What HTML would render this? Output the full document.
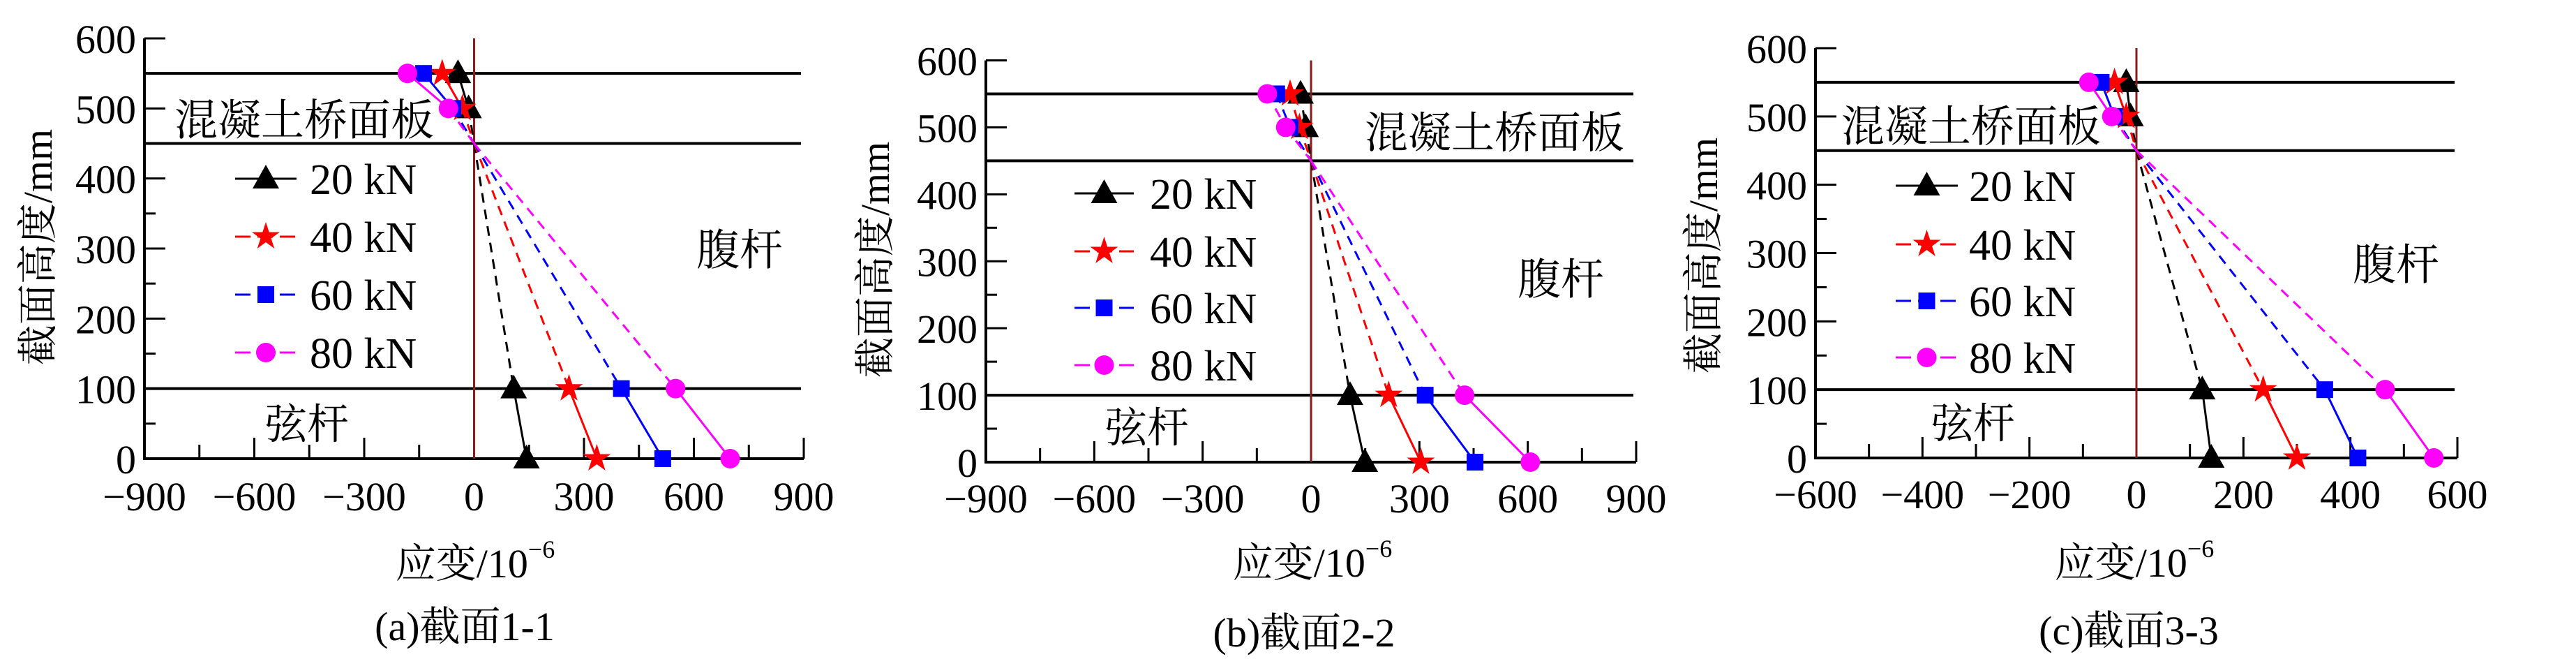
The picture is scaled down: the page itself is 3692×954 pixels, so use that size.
<!DOCTYPE html>
<html><head><meta charset="utf-8"><style>
html,body{margin:0;padding:0;background:#fff;}
svg{display:block;font-family:"Liberation Serif","Noto Serif CJK SC",serif;}
svg text{font-family:"Liberation Serif","Noto Serif CJK SC",serif;fill:#000;}
</style></head>
<body>
<svg id="chart" width="3692" height="954" viewBox="0 0 3692 954" xmlns="http://www.w3.org/2000/svg" font-family="Liberation Serif, Noto Serif CJK SC, serif"></svg>
<script>
const heights = [550, 500, 450, 100, 0];
const loads = ["20 kN", "40 kN", "60 kN", "80 kN"];
const aStrain20 = [-44, -15, 0, 108, 143];
const aStrain40 = [-87, -32, 0, 259, 335];
const aStrain60 = [-138, -58, 0, 402, 515];
const aStrain80 = [-182, -70, 0, 550, 699];
const bStrain20 = [-29, -15, 0, 108, 149];
const bStrain40 = [-58, -32, 0, 215, 304];
const bStrain60 = [-95, -58, 0, 316, 454];
const bStrain80 = [-121, -70, 0, 425, 607];
const cStrain20 = [-19, -11, 0, 123, 140];
const cStrain40 = [-41, -19, 0, 237, 300];
const cStrain60 = [-66, -41, 0, 352, 414];
const cStrain80 = [-89, -46, 0, 465, 556];
const ticksAB = [-900, -600, -300, 0, 300, 600, 900];
const ticksC = [-600, -400, -200, 0, 200, 400, 600];
const yTicks = [0, 100, 200, 300, 400, 500, 600];
const layerLines = [550, 450, 100];

const NS = "http://www.w3.org/2000/svg";
const svg = document.getElementById("chart");
const FONT = '"Liberation Serif", "Noto Serif CJK SC", serif';
function mk(tag, attrs, parent) {
  const e = document.createElementNS(NS, tag);
  for (const k in attrs) e.setAttribute(k, attrs[k]);
  if (tag === "text") e.setAttribute("style", "font-family:" + FONT);
  (parent || svg).appendChild(e);
  return e;
}
const colors = ["#000000", "#ff0000", "#0000ff", "#ff00ff"];
const markers = ["tri", "star", "sq", "circ"];

function drawMarker(g, type, cx, cy, color) {
  let m;
  if (type === "tri") m = mk("polygon", {points: `${cx},${cy-20} ${cx-19},${cy+14} ${cx+19},${cy+14}`, fill: color}, g);
  else if (type === "sq") m = mk("rect", {x: cx-12, y: cy-12, width: 24, height: 24, fill: color}, g);
  else if (type === "circ") m = mk("circle", {cx: cx, cy: cy, r: 14, fill: color}, g);
  else {
    let pts = [];
    for (let i = 0; i < 10; i++) {
      const r = i % 2 ? 8 : 21, a = -Math.PI/2 + i*Math.PI/5;
      pts.push((cx + r*Math.cos(a)).toFixed(1) + "," + (cy + r*Math.sin(a)).toFixed(1));
    }
    m = mk("polygon", {points: pts.join(" "), fill: color}, g);
  }
  
  
}

const panels = [
  {id:"a", x0:207, x1:1152, xmin:-900, xmax:900, y0:657, y600:55, ticks:ticksAB, minor:150,
   series:[aStrain20,aStrain40,aStrain60,aStrain80], topDash:false,
   leg:{x1:337,x2:425,tx:444,ys:[256,339,422,505]},
   deck:{x:436,y:171}, web:{x:1060,y:357}, chord:{x:440,y:607},
   ytitle:{x:54,y:354}, xtitle:{x:681,y:805}, cap:{x:666,y:896,t:"(a)截面1-1"}, tickY:710},
  {id:"b", x0:1413, x1:2345, xmin:-900, xmax:900, y0:662, y600:86.5, ticks:ticksAB, minor:150,
   series:[bStrain20,bStrain40,bStrain60,bStrain80], topDash:true,
   leg:{x1:1540,x2:1625,tx:1648,ys:[277,360,441,523]},
   deck:{x:2142,y:189}, web:{x:2237,y:399}, chord:{x:1644,y:612},
   ytitle:{x:1254,y:372}, xtitle:{x:1881,y:804}, cap:{x:1869,y:905,t:"(b)截面2-2"}, tickY:713},
  {id:"c", x0:2602, x1:3522, xmin:-600, xmax:600, y0:656, y600:69, ticks:ticksC, minor:100,
   series:[cStrain20,cStrain40,cStrain60,cStrain80], topDash:false,
   leg:{x1:2717,x2:2806,tx:2822,ys:[266,350,431,512]},
   deck:{x:2825,y:180}, web:{x:3434,y:378}, chord:{x:2828,y:606},
   ytitle:{x:2441,y:366}, xtitle:{x:3059,y:804}, cap:{x:3051,y:902,t:"(c)截面3-3"}, tickY:707}
];

panels.forEach(p => {
  const g = mk("g", {});
  
  
  const X = v => p.x0 + (v - p.xmin) / (p.xmax - p.xmin) * (p.x1 - p.x0);
  const Y = v => p.y0 + (p.y600 - p.y0) * v / 600;

  layerLines.forEach(h => {
    const l = mk("line", {x1: p.x0, x2: p.x1 - 4, y1: Y(h), y2: Y(h), stroke: "#000", "stroke-width": 4}, g);
    
    
  });
  const ax = mk("line", {x1: p.x0, x2: p.x1, y1: p.y0, y2: p.y0, stroke: "#000", "stroke-width": 4}, g);
  
  
  const ay = mk("line", {x1: p.x0, x2: p.x0, y1: p.y0 + 2, y2: Y(600), stroke: "#000", "stroke-width": 4}, g);
  
  
  for (let v = p.xmin; v <= p.xmax + 0.1; v += p.minor) {
    const major = p.ticks.includes(v);
    const t = mk("line", {x1: X(v), x2: X(v), y1: p.y0, y2: p.y0 - (major ? 30 : 20), stroke: "#000", "stroke-width": 3}, g);
    
    
  }
  p.ticks.forEach(v => {
    const t = mk("text", {x: X(v), y: p.tickY + 21, "font-size": 58, "text-anchor": "middle"}, g);
    t.textContent = v < 0 ? "\u2212" + (-v) : String(v);
    
    
  });
  for (let v = 0; v <= 600; v += 50) {
    const major = v % 100 === 0;
    const t = mk("line", {x1: p.x0, x2: p.x0 + (major ? 30 : 16), y1: Y(v), y2: Y(v), stroke: "#000", "stroke-width": 3}, g);
    
    
  }
  yTicks.forEach(v => {
    const t = mk("text", {x: p.x0 - 12, y: Y(v) + 21, "font-size": 58, "text-anchor": "end"}, g);
    t.textContent = v;
    
    
  });
  const z = mk("line", {x1: X(0), x2: X(0), y1: Y(600), y2: p.y0, stroke: "#8b1a1a", "stroke-width": 3}, g);
  
  

  p.series.forEach((s, i) => {
    const sg = mk("g", {}, g);
    
    
    const c = colors[i];
    const seg = (a, b, dash) => {
      const l = mk("line", {x1: X(s[a]), y1: Y(heights[a]), x2: X(s[b]), y2: Y(heights[b]), stroke: c, "stroke-width": 3}, sg);
      if (dash) l.setAttribute("stroke-dasharray", "14 10");
      
      
    };
    seg(0, 1, p.topDash);
    seg(1, 2, true);
    seg(2, 3, true);
    seg(3, 4, false);
    [0, 1, 3, 4].forEach(k => drawMarker(sg, markers[i], X(s[k]), Y(heights[k]), c));
  });

  loads.forEach((name, i) => {
    const lg = mk("g", {}, g);
    
    
    const y = p.leg.ys[i];
    const l = mk("line", {x1: p.leg.x1, x2: p.leg.x2, y1: y, y2: y, stroke: colors[i], "stroke-width": 3}, lg);
    if (i > 0) l.setAttribute("stroke-dasharray", "22 10");
    drawMarker(lg, markers[i], (p.leg.x1 + p.leg.x2) / 2, y, colors[i]);
    const t = mk("text", {x: p.leg.tx, y: y + 22, "font-size": 62}, lg);
    t.textContent = name;
  });

  const label = (o, txt, nm, fs) => {
    const t = mk("text", {x: o.x, y: o.y + fs * 0.36, "font-size": fs, "text-anchor": "middle"}, g);
    t.textContent = txt;
    
    
    return t;
  };
  label(p.deck, "混凝土桥面板", "deck-label", 62);
  label(p.web, "腹杆", "web-label", 62);
  label(p.chord, "弦杆", "chord-label", 60);
  const yt = mk("text", {x: 0, y: 0, "font-size": 58, "text-anchor": "middle",
    transform: `translate(${p.ytitle.x + 20},${p.ytitle.y}) rotate(-90)`}, g);
  yt.textContent = "截面高度/mm";
  
  
  const xt = mk("text", {x: p.xtitle.x, y: p.xtitle.y + 22, "font-size": 58, "text-anchor": "middle"}, g);
  
  
  xt.appendChild(document.createTextNode("应变/10"));
  const sup = mk("tspan", {"font-size": 36, dy: -28}, xt);
  sup.textContent = "\u22126";
  label(p.cap, p.cap.t, "caption", 58);
});
</script>
</body></html>
